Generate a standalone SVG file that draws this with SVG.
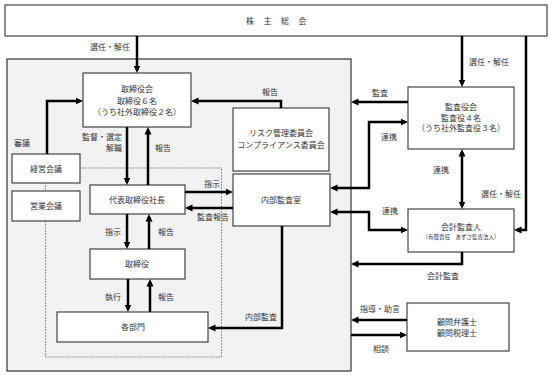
<svg xmlns="http://www.w3.org/2000/svg" width="552" height="376" viewBox="0 0 552 376">
<defs>
<marker id="ah" markerUnits="userSpaceOnUse" markerWidth="8" markerHeight="8" viewBox="0 0 8 8" refX="4.5" refY="4" orient="auto-start-reverse">
<path d="M0,0.5 L7.5,4 L0,7.5 z" fill="#000"/>
</marker>
</defs>
<style>
text{font-family:"Noto Sans CJK JP","Noto Sans CJK SC",sans-serif;font-size:8px;fill:#333;text-anchor:middle}
.box{fill:#fff;stroke:#444;stroke-width:1.2}
.c{fill:none;stroke:#000;stroke-width:2.5}
.a{marker-end:url(#ah)}
.d{marker-start:url(#ah);marker-end:url(#ah)}
.sm{font-size:5.5px}
.r{text-anchor:end}
</style>
<g id="kabunushi"><rect class="box" x="5" y="5" width="542" height="31"/><text x="281" y="24" style="letter-spacing:9.5px">株主総会</text></g>
<g id="company-area"><rect x="7" y="59" width="344" height="312" fill="#f2f2f2" stroke="#333" stroke-width="1.2"/></g>
<g id="exec-area"><rect x="45.5" y="168" width="176" height="189" fill="none" stroke="#777" stroke-width="0.8" stroke-dasharray="2,1"/></g>
<g id="torishimariyakukai"><rect class="box" x="83" y="73" width="108" height="54"/><text x="137" y="92">取締役会</text><text x="137" y="104">取締役６名</text><text x="137" y="115">（うち社外取締役２名）</text></g>
<g id="keiei"><rect class="box" x="12" y="154" width="68" height="29"/><text x="46" y="172">経営会議</text></g>
<g id="eigyo"><rect class="box" x="12" y="191" width="68" height="30"/><text x="46" y="209">営業会議</text></g>
<g id="shacho"><rect class="box" x="90" y="185" width="95" height="29"/><text x="137" y="203">代表取締役社長</text></g>
<g id="torishimariyaku"><rect class="box" x="90" y="249" width="95" height="30"/><text x="137" y="267">取締役</text></g>
<g id="kakubumon"><rect class="box" x="57" y="312" width="151" height="30"/><text x="133" y="330">各部門</text></g>
<g id="risk"><rect class="box" x="233" y="108" width="96" height="63"/><text x="281" y="136">リスク管理委員会</text><text x="281" y="148">コンプライアンス委員会</text></g>
<g id="naibukansa"><rect class="box" x="233" y="174" width="97" height="52"/><text x="281" y="203">内部監査室</text></g>
<g id="kansayakukai"><rect class="box" x="408" y="87" width="106" height="62"/><text x="461" y="110">監査役会</text><text x="461" y="121">監査役４名</text><text x="461" y="131">（うち社外監査役３名）</text></g>
<g id="kaikei"><rect class="box" x="408" y="209" width="106" height="43"/><text x="461" y="230">会計監査人</text><text class="sm" x="461" y="239">（有限責任　あずさ監査法人）</text></g>
<g id="komon"><rect class="box" x="407" y="303" width="102" height="48"/><text x="457" y="325">顧問弁護士</text><text x="457" y="336">顧問税理士</text></g>
<g id="connectors">
<path class="c a" d="M137,36 V70"/>
<path class="c a" d="M462,36 V84"/>
<path class="c a" d="M526,36 V230 H517"/>
<path class="c a" d="M47,154 V101 H80"/>
<path class="c a" d="M281,108 V101 H194"/>
<path class="c a" d="M127,127 V182"/>
<path class="c a" d="M148,185 V130"/>
<path class="c a" d="M185,192 H230"/>
<path class="c a" d="M233,208 H188"/>
<path class="c a" d="M127,214 V246"/>
<path class="c a" d="M149,249 V217"/>
<path class="c a" d="M128,279 V309"/>
<path class="c a" d="M150,312 V282"/>
<path class="c a" d="M282,226 V328 H211"/>
<path class="c a" d="M408,102 H354"/>
<path class="c d" d="M405,122 H369 V188 H333"/>
<path class="c d" d="M462,152 V206"/>
<path class="c d" d="M333,212 H369 V230 H405"/>
<path class="c a" d="M462,252 V264 H354"/>
<path class="c a" d="M407,320 H354"/>
<path class="c a" d="M351,335 H404"/>
</g>
<g id="labels">
<text x="110" y="50">選任・解任</text>
<text x="489" y="65">選任・解任</text>
<text x="22" y="146">審議</text>
<text class="r" x="122" y="140">監督・選定</text>
<text class="r" x="122" y="151">解職</text>
<text x="163" y="151">報告</text>
<text x="270" y="95">報告</text>
<text x="380" y="96">監査</text>
<text x="212" y="187">指示</text>
<text x="213" y="220">監査報告</text>
<text x="113" y="235">指示</text>
<text x="166" y="235">報告</text>
<text x="113" y="300">執行</text>
<text x="166" y="300">報告</text>
<text x="261" y="320">内部監査</text>
<text x="389" y="140">連携</text>
<text x="441" y="173">連携</text>
<text x="390" y="214">連携</text>
<text x="501" y="197">選任・解任</text>
<text x="443" y="279">会計監査</text>
<text x="380" y="312">指導・助言</text>
<text x="381" y="352">相談</text>
</g>
</svg>
